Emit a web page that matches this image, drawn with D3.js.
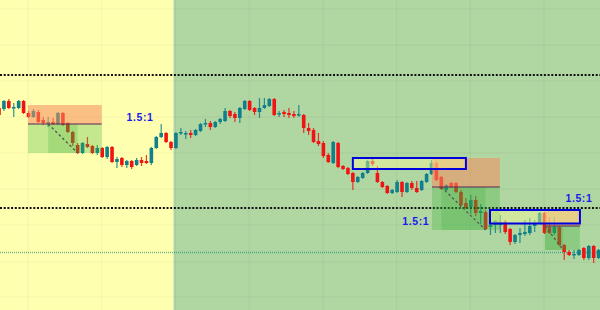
<!DOCTYPE html>
<html>
<head>
<meta charset="utf-8">
<script src="https://cdn.jsdelivr.net/npm/d3@7"></script>
<style>
  body { margin: 0; background: #fff; }
  svg { display: block; }
</style>
</head>
<body>
<svg id="main" width="600" height="310"></svg>
<script>
"use strict";

// price data, in pips above 1.1000 : [open, high, low, close]
const candles = [
  [192,194,184,185],[191,200,189,199],[199,201,191,192],[192,197,183,193],[192,200,191,199],
  [199,200,186,187],[187,189,182,183],[183,191,182,189],[188,190,177,178],[180,183,175,177],
  [177,183,173,178],[178,182,175,176],[176,188,175,187],[187,188,174,175],[177,178,167,168],
  [168,169,154,157],[155,157,146,147],[147,158,146,157],[156,163,152,153],[154,155,146,147],
  [147,155,145,152],[152,153,142,143],[143,154,141,153],[153,154,137,138],[138,143,132,141],
  [142,143,133,135],[135,140,132,139],[139,140,131,133],[135,142,134,140],[140,143,134,137],
  [139,145,136,137],[137,153,135,152],[152,164,151,163],[163,176,162,167],[167,168,157,158],
  [158,159,150,152],[152,168,151,167],[167,172,165,168],[166,169,161,167],[167,170,162,165],
  [165,171,164,170],[169,177,168,176],[176,181,173,177],[177,179,170,173],[173,179,172,178],
  [178,182,176,181],[179,192,178,189],[189,190,182,184],[186,188,178,182],[182,193,177,192],
  [191,200,190,199],[199,200,189,190],[192,193,185,188],[188,202,182,192],[192,202,191,195],
  [194,202,193,201],[201,202,184,185],[186,189,183,187],[188,190,183,186],[187,192,182,185],
  [186,189,182,184],[185,195,183,186],[185,186,167,172],[172,177,165,169],[170,172,157,158],
  [159,167,154,156],[157,159,142,144],[145,147,137,138],[137,159,136,158],[157,158,132,133],
  [134,135,130,131],[132,133,125,126],[127,128,110,118],[118,124,117,123],[122,128,121,127],
  [127,140,126,139],[139,142,134,136],[127,134,117,118],[118,119,112,113],[114,115,106,107],
  [107,111,106,110],[108,120,107,118],[118,119,103,108],[108,118,107,117],[117,119,110,112],
  [112,119,107,108],[110,120,109,119],[118,127,117,126],[126,140,125,137],[137,139,119,120],
  [123,124,110,111],[110,116,109,115],[117,118,112,113],[117,118,107,108],[108,110,93,95],
  [97,102,91,92],[93,105,86,100],[100,104,84,87],[87,96,76,89],[88,90,70,71],
  [73,80,65,75],[75,80,67,79],[75,85,67,78],[78,80,66,68],[71,72,55,58],
  [58,66,56,65],[65,72,57,67],[66,80,64,68],[67,82,65,74],[74,80,68,77],
  [77,88,76,87],[87,88,66,67],[73,83,66,67],[67,83,65,73],[73,74,54,55],
  [55,56,40,48],[48,50,44,45],[45,50,41,46],[45,51,44,50],[52,53,40,42],
  [42,55,40,54],[54,55,37,42],[42,51,41,50]
];

// session split (candle index) and grid
const sessionBreak = 35.5;
const gridIdx = [5.9, 20.9, 35.9, 50.9, 65.9, 80.9, 95.9, 110.9];
const gridPips = [291, 255, 219, 183, 147, 111, 75, 38, 3];

// price levels
const blackLevels = [225, 92];
const tealLevels = [48];

// supply zones
const zoneStart = [72, 99.9];
const zoneEnd = [95, 118.2];
const zoneHigh = [142, 90];
const zoneLow = [131, 76.5];

// trade setups
const tradeStart = [5.9, 88.1, 111.1];
const tradeEnd = [20.9, 101.9, 118.2];
const entryIdx = [10, 90, 111.1];
const exitIdx = [16, 99, 114.8];
const stopPips = [195, 142, 90];
const entryPips = [176, 113, 74];
const targetPips = [147, 70, 50];
const ratioLabels = ["1.5:1", "1.5:1", "1.5:1"];
const labelIdx = [28.7, 84.8, 118];
const labelPips = [183, 79, 102];

const BASE = 1.1, PIP = 0.0001;
const price = (p) => BASE + p * PIP;

//configurations
const colors = {
  up: "#11808c",
  down: "#f01515",
  yellow: "#ffffb0",
  green: "#b0d6a2",
  grid: "rgba(0,0,0,0.045)",
  stop: "rgba(245,140,95,0.55)",
  target: "rgba(60,180,60,0.3)",
  targetDark: "rgba(50,170,50,0.22)",
  entry: "#5a2550",
  zone: "#0000dd",
  zoneFill: "rgba(255,255,150,0.42)",
  label: "#1a1aee"
};

const mySvg = d3.select("#main");
const W = 600, H = 310;

const x = d3.scaleLinear().domain([0, 122]).range([-1, 598.6]);
const y = d3.scaleLinear().domain([price(-10), price(300)]).range([H, 0]);

// backgrounds
mySvg.append("rect").attr("x", 0).attr("y", 0)
  .attr("width", x(sessionBreak)).attr("height", H).attr("fill", colors.yellow);
mySvg.append("rect").attr("x", x(sessionBreak)).attr("y", 0)
  .attr("width", W - x(sessionBreak)).attr("height", H).attr("fill", colors.green);

// grid
mySvg.append("g").selectAll("line").data(gridIdx).enter().append("line")
  .attr("x1", (d) => x(d)).attr("x2", (d) => x(d))
  .attr("y1", 0).attr("y2", H)
  .attr("stroke", colors.grid).attr("stroke-width", 1);
mySvg.append("g").selectAll("line").data(gridPips).enter().append("line")
  .attr("x1", 0).attr("x2", W)
  .attr("y1", (d) => y(price(d))).attr("y2", (d) => y(price(d)))
  .attr("stroke", colors.grid).attr("stroke-width", 1);

// teal level
mySvg.append("g").selectAll("line").data(tealLevels).enter().append("line")
  .attr("x1", 0).attr("x2", W)
  .attr("y1", (d) => y(price(d)) + 0.5).attr("y2", (d) => y(price(d)) + 0.5)
  .attr("stroke", "rgba(0,140,120,0.6)").attr("stroke-width", 1.6)
  .attr("stroke-dasharray", "1,1");

// candles
const bw = 3.6;
const candle = mySvg.append("g").selectAll("g").data(candles).enter().append("g");
candle.append("line")
  .attr("x1", (d, i) => x(i)).attr("x2", (d, i) => x(i))
  .attr("y1", (d) => y(price(d[1]))).attr("y2", (d) => y(price(d[2])))
  .attr("stroke", (d) => d[3] >= d[0] ? colors.up : colors.down)
  .attr("stroke-width", 1.2).attr("opacity", 0.85);
candle.append("rect")
  .attr("x", (d, i) => x(i) - bw / 2)
  .attr("y", (d) => y(price(Math.max(d[0], d[3]))))
  .attr("width", bw)
  .attr("height", (d) => Math.max(1.5, Math.abs(y(price(d[0])) - y(price(d[3])))))
  .attr("fill", (d) => d[3] >= d[0] ? colors.up : colors.down);

// black dotted levels
mySvg.append("g").selectAll("line").data(blackLevels).enter().append("line")
  .attr("x1", 0).attr("x2", W)
  .attr("y1", (d) => y(price(d))).attr("y2", (d) => y(price(d)))
  .attr("stroke", "#111").attr("stroke-width", 2)
  .attr("stroke-dasharray", "2,1.7");

// trade boxes
const trades = d3.range(tradeStart.length);
const tg = mySvg.append("g").selectAll("g").data(trades).enter().append("g");
tg.append("rect")
  .attr("x", (i) => x(tradeStart[i])).attr("width", (i) => x(tradeEnd[i]) - x(tradeStart[i]))
  .attr("y", (i) => y(price(stopPips[i])))
  .attr("height", (i) => y(price(entryPips[i])) - y(price(stopPips[i])))
  .attr("fill", colors.stop);
tg.append("rect")
  .attr("x", (i) => x(tradeStart[i])).attr("width", (i) => x(tradeEnd[i]) - x(tradeStart[i]))
  .attr("y", (i) => y(price(entryPips[i])))
  .attr("height", (i) => y(price(targetPips[i])) - y(price(entryPips[i])))
  .attr("fill", colors.target);
tg.append("rect")
  .attr("x", (i) => x(entryIdx[i])).attr("width", (i) => x(exitIdx[i]) - x(entryIdx[i]))
  .attr("y", (i) => y(price(entryPips[i])))
  .attr("height", (i) => y(price(targetPips[i])) - y(price(entryPips[i])))
  .attr("fill", colors.targetDark);
tg.append("line")
  .attr("x1", (i) => x(tradeStart[i])).attr("x2", (i) => x(tradeEnd[i]))
  .attr("y1", (i) => y(price(entryPips[i]))).attr("y2", (i) => y(price(entryPips[i])))
  .attr("stroke", colors.entry).attr("stroke-width", 1);
tg.append("line")
  .attr("x1", (i) => x(entryIdx[i])).attr("x2", (i) => x(exitIdx[i]))
  .attr("y1", (i) => y(price(entryPips[i]))).attr("y2", (i) => y(price(targetPips[i])))
  .attr("stroke", "#555").attr("stroke-width", 1.3)
  .attr("stroke-dasharray", "2.5,2.5");

// supply zones
const zones = d3.range(zoneStart.length);
mySvg.append("g").selectAll("rect").data(zones).enter().append("rect")
  .attr("x", (i) => x(zoneStart[i])).attr("width", (i) => x(zoneEnd[i]) - x(zoneStart[i]))
  .attr("y", (i) => y(price(zoneHigh[i])))
  .attr("height", (i) => y(price(zoneLow[i])) - y(price(zoneHigh[i])))
  .attr("fill", colors.zoneFill)
  .attr("stroke", colors.zone).attr("stroke-width", 2);

// ratio labels
mySvg.append("g").selectAll("text").data(trades).enter().append("text")
  .attr("x", (i) => x(labelIdx[i])).attr("y", (i) => y(price(labelPips[i])))
  .attr("text-anchor", "middle").attr("dominant-baseline", "central")
  .attr("font-family", "Liberation Sans, Arial, sans-serif")
  .attr("font-weight", "bold").attr("font-size", 10.5)
  .attr("letter-spacing", 0.6)
  .attr("fill", colors.label)
  .text((i) => ratioLabels[i]);
</script>
</body>
</html>
